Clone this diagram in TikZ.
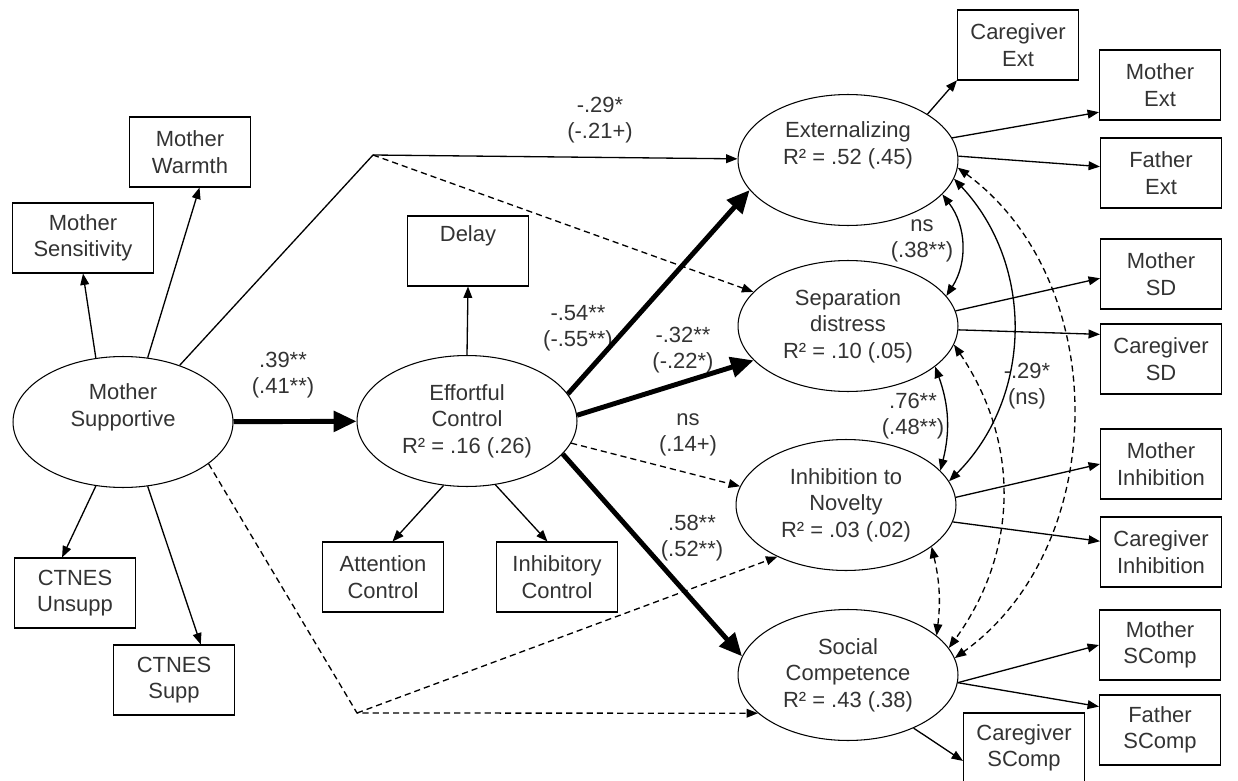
\documentclass[tikz,border=0pt]{standalone}
\usepackage{fontspec}
\setmainfont{Liberation Sans}
\usetikzlibrary{arrows.meta,shapes.geometric}

\begin{document}
\begin{tikzpicture}[x=0.02cm, y=-0.02cm]
\tikzstyle{every node} = [font=\fontsize{12.5}{15}\selectfont, align=center, text=black!80]
\tikzstyle{latent} = [draw, ellipse, line width=0.6, minimum width=4.4cm, minimum height=2.62cm, inner sep=0]
\tikzstyle{obs} = [draw, rectangle, line width=0.6, minimum width=2.42cm, minimum height=1.4cm, inner sep=0]
\tikzstyle{coef} = [inner sep=0]
\tikzstyle{load} = [draw, line width=0.75, -{Triangle[length=6.5pt, width=5pt]}]
\tikzstyle{reg} = [draw, line width=0.75, -{Triangle[length=6.5pt, width=5pt]}]
\tikzstyle{strong} = [draw, line width=2.8, -{Triangle[length=13pt, width=11.5pt]}]
\tikzstyle{nsreg} = [draw, line width=0.75, dash pattern=on 3.5pt off 2.3pt, -{Triangle[length=6.5pt, width=5pt]}]
\tikzstyle{cov} = [draw, line width=0.75, {Triangle[length=6.5pt, width=5pt]}-{Triangle[length=6.5pt, width=5pt]}]
\tikzstyle{nscov} = [cov, dash pattern=on 3.5pt off 2.3pt]
\useasboundingbox (0, 0) rectangle (1238, 781);
\node[latent] (ms) at (123, 422) {Mother\\Supportive\\\strut};
\node[obs, minimum width=2.82cm] (sens) at (83, 238) {Mother\\Sensitivity};
\node[obs] (warm) at (190, 152) {Mother\\Warmth};
\node[obs] (unsupp) at (75, 593) {CTNES\\Unsupp};
\node[obs] (supp) at (174, 680) {CTNES\\Supp};
\node[latent] (ec) at (467, 421) {Effortful\\Control\\R² = .16 (.26)};
\node[obs] (delay) at (468, 251) {Delay\\\strut};
\node[obs] (att) at (383, 577) {Attention\\Control};
\node[obs] (inhc) at (557, 577) {Inhibitory\\Control};
\node[latent] (ext) at (848, 160) {Externalizing\\R² = .52 (.45)\\\strut};
\node[latent] (sd) at (848, 326) {Separation\\distress\\R² = .10 (.05)};
\node[latent] (inh) at (846, 505) {Inhibition to\\Novelty\\R² = .03 (.02)};
\node[latent] (sc) at (848, 675) {Social\\Competence\\R² = .43 (.38)};
\node[obs] (cgext) at (1018, 45) {Caregiver\\Ext};
\node[obs] (mext) at (1160, 85) {Mother\\Ext};
\node[obs] (fext) at (1161, 173) {Father\\Ext};
\node[obs] (msd) at (1161, 274) {Mother\\SD};
\node[obs] (cgsd) at (1161, 359) {Caregiver\\SD};
\node[obs] (minh) at (1161, 464) {Mother\\Inhibition};
\node[obs] (cginh) at (1161, 552) {Caregiver\\Inhibition};
\node[obs] (msc) at (1160, 645) {Mother\\SComp};
\node[obs] (fsc) at (1160, 730) {Father\\SComp};
\node[obs] (cgsc) at (1024, 748) {Caregiver\\SComp};
\coordinate (c1) at (373, 155);
\coordinate (c2) at (357, 713);
\node[coef] (l1) at (600, 120) {-.29*\\(-.21+)};
\node[coef] (l2) at (283, 375) {.39**\\(.41**)};
\node[coef] (l3) at (578, 328) {-.54**\\(-.55**)};
\node[coef] (l4) at (683, 350) {-.32**\\(-.22*)};
\node[coef] (l5) at (688, 435) {ns\\(.14+)};
\node[coef] (l6) at (692, 538) {.58**\\(.52**)};
\node[coef] (l7) at (922, 241) {ns\\(.38**)};
\node[coef] (l8) at (913, 416) {.76**\\(.48**)};
\node[coef] (l9) at (1027, 386) {-.29*\\(ns)};
\draw[load] (ms.113) -- (sens.south);
\draw[load] (ms.69) -- (warm.285);
\draw[load] (ms.247) -- (unsupp.110);
\draw[load] (ms.291) -- (supp.53);
\draw[load] (ec.north) -- (delay.south);
\draw[load] (ec.250) -- (att.75);
\draw[load] (ec.294) -- (inhc.105);
\draw[load] (ext.30) -- (cgext.210);
\draw[load] (ext.12) -- (mext.204);
\draw[load] (ext.2) -- (fext.174);
\draw[load] (sd.8) -- (msd.184);
\draw[load] (sd.358) -- (cgsd.158);
\draw[load] (inh.4) -- (minh.west);
\draw[load] (inh.351) -- (cginh.170);
\draw[load] (sc.356) -- (msc.west);
\draw[load] (sc.356) -- (fsc.159);
\draw[load] (sc.321) -- (cgsc.192);
\draw[strong] (ms) -- (ec);
\draw[reg] (ms.45) -- (c1) -- (ext);
\draw[nsreg] (c1) -- (sd);
\draw[nsreg] (ms.334) -- (c2) -- (sc.203);
\draw[nsreg] (c2) -- (inh.217);
\draw[strong] (ec.15) -- (ext.197);
\draw[strong] (ec.3) -- (sd.200);
\draw[nsreg] (ec.348) -- (inh.170);
\draw[strong] (ec.341) -- (sc.170);
\draw[cov] (ext.340) to[bend left=35] (sd.17);
\draw[cov] (sd.335) to[bend left=17] (inh.20);
\draw[cov] (ext.350) to[bend left=44] (inh.13);
\draw[nscov] (sd.350) to[bend left=35] (sc.15);
\draw[nscov] (ext.356) to[bend left=54] (sc.9);
\draw[nscov] (inh.334) to[bend left=10] (sc.24);
\end{tikzpicture}
\end{document}
